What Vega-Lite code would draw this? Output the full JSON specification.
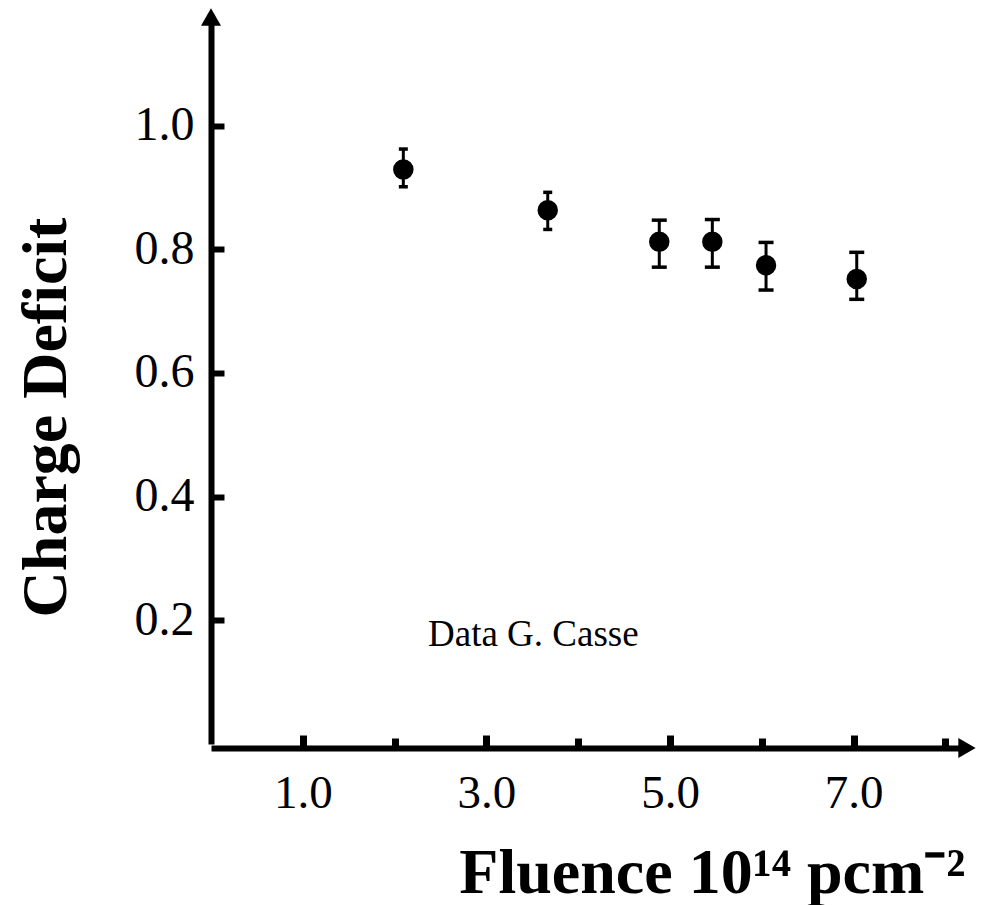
{
  "$schema": "https://vega.github.io/schema/vega-lite/v6.json",
  "autosize": {"type": "none"},
  "padding": {"left": 211, "top": 17, "right": 17, "bottom": 161},
  "width": 756,
  "height": 727,
  "background": "white",
  "config": {"view": {"stroke": null}, "font": "Liberation Serif"},
  "datasets": {
    "points": [
      {"fluence": 2.095, "deficit": 0.929, "lo": 0.901, "hi": 0.962},
      {"fluence": 3.668, "deficit": 0.863, "lo": 0.832, "hi": 0.892},
      {"fluence": 4.883, "deficit": 0.812, "lo": 0.771, "hi": 0.847},
      {"fluence": 5.461, "deficit": 0.812, "lo": 0.771, "hi": 0.848},
      {"fluence": 6.046, "deficit": 0.774, "lo": 0.734, "hi": 0.811},
      {"fluence": 7.034, "deficit": 0.752, "lo": 0.719, "hi": 0.795}
    ],
    "arrows": [
      {"fluence": 8.235, "deficit": -0.0065, "dir": "x"},
      {"fluence": 0, "deficit": 1.1755, "dir": "y"}
    ]
  },
  "layer": [
    {
      "data": {"name": "points"},
      "mark": {"type": "rule", "color": "black", "strokeWidth": 3},
      "encoding": {
        "x": {
          "field": "fluence", "type": "quantitative",
          "scale": {"domain": [0, 8.235], "nice": false, "zero": false},
          "axis": {
            "values": [1, 2, 3, 4, 5, 6, 7, 8],
            "labelExpr": "datum.value % 2 == 1 ? format(datum.value, '.1f') : ''",
            "offset": 4,
            "domainColor": "black", "domainWidth": 6,
            "tickColor": "black", "tickWidth": 7,
            "tickSize": {"condition": {"test": "datum.value % 2 == 1", "value": -13}, "value": -10},
            "labelFont": "Liberation Serif", "labelFontSize": 47, "labelColor": "black",
            "labelPadding": 35, "labelFlush": false, "labelOverlap": false,
            "grid": false,
            "title": "Fluence 10¹⁴ pcm⁻²",
            "titleFont": "Liberation Serif", "titleFontSize": 64, "titleFontWeight": "bold",
            "titleColor": "black", "titleAlign": "right", "titleAnchor": "end",
            "titleBaseline": "alphabetic", "titleX": 754, "titleY": 144
          }
        },
        "y": {
          "field": "lo", "type": "quantitative",
          "scale": {"domain": [0, 1.1755], "nice": false, "zero": false},
          "axis": {
            "values": [0.2, 0.4, 0.6, 0.8, 1.0],
            "format": ".1f",
            "domainColor": "black", "domainWidth": 6,
            "tickColor": "black", "tickWidth": 6, "tickSize": -13,
            "labelFont": "Liberation Serif", "labelFontSize": 48, "labelColor": "black",
            "labelPadding": 30, "labelFlush": false, "labelOverlap": false,
            "grid": false,
            "title": "Charge Deficit",
            "titleFont": "Liberation Serif", "titleFontSize": 64, "titleFontWeight": "bold",
            "titleColor": "black", "titleAngle": 270, "titleAlign": "center",
            "titleBaseline": "alphabetic", "titleX": -146, "titleY": 400
          }
        },
        "y2": {"field": "hi"}
      }
    },
    {
      "data": {"name": "points"},
      "transform": [{"filter": "datum.fluence < 4"}],
      "mark": {"type": "tick", "orient": "horizontal", "color": "black", "opacity": 1, "size": 9, "thickness": 3.5},
      "encoding": {
        "x": {"field": "fluence", "type": "quantitative"},
        "y": {"field": "lo", "type": "quantitative"}
      }
    },
    {
      "data": {"name": "points"},
      "transform": [{"filter": "datum.fluence < 4"}],
      "mark": {"type": "tick", "orient": "horizontal", "color": "black", "opacity": 1, "size": 9, "thickness": 3.5},
      "encoding": {
        "x": {"field": "fluence", "type": "quantitative"},
        "y": {"field": "hi", "type": "quantitative"}
      }
    },
    {
      "data": {"name": "points"},
      "transform": [{"filter": "datum.fluence >= 4"}],
      "mark": {"type": "tick", "orient": "horizontal", "color": "black", "opacity": 1, "size": 15, "thickness": 3.5},
      "encoding": {
        "x": {"field": "fluence", "type": "quantitative"},
        "y": {"field": "lo", "type": "quantitative"}
      }
    },
    {
      "data": {"name": "points"},
      "transform": [{"filter": "datum.fluence >= 4"}],
      "mark": {"type": "tick", "orient": "horizontal", "color": "black", "opacity": 1, "size": 15, "thickness": 3.5},
      "encoding": {
        "x": {"field": "fluence", "type": "quantitative"},
        "y": {"field": "hi", "type": "quantitative"}
      }
    },
    {
      "data": {"name": "points"},
      "mark": {"type": "point", "filled": true, "color": "black", "opacity": 1, "size": 420, "shape": "circle"},
      "encoding": {
        "x": {"field": "fluence", "type": "quantitative"},
        "y": {"field": "deficit", "type": "quantitative"}
      }
    },
    {
      "data": {"values": [{"label": "Data G. Casse", "fluence": 2.364, "deficit": 0.158}]},
      "mark": {"type": "text", "align": "left", "baseline": "alphabetic", "font": "Liberation Serif", "fontSize": 37, "color": "black"},
      "encoding": {
        "x": {"field": "fluence", "type": "quantitative"},
        "y": {"field": "deficit", "type": "quantitative"},
        "text": {"field": "label"}
      }
    },
    {
      "data": {"name": "arrows"},
      "transform": [{"filter": "datum.dir == 'x'"}],
      "mark": {"type": "point", "shape": "triangle-right", "filled": true, "color": "black", "opacity": 1, "size": 400},
      "encoding": {
        "x": {"field": "fluence", "type": "quantitative"},
        "y": {"field": "deficit", "type": "quantitative"}
      }
    },
    {
      "data": {"name": "arrows"},
      "transform": [{"filter": "datum.dir == 'y'"}],
      "mark": {"type": "point", "shape": "triangle-up", "filled": true, "color": "black", "opacity": 1, "size": 400},
      "encoding": {
        "x": {"field": "fluence", "type": "quantitative"},
        "y": {"field": "deficit", "type": "quantitative"}
      }
    }
  ]
}
